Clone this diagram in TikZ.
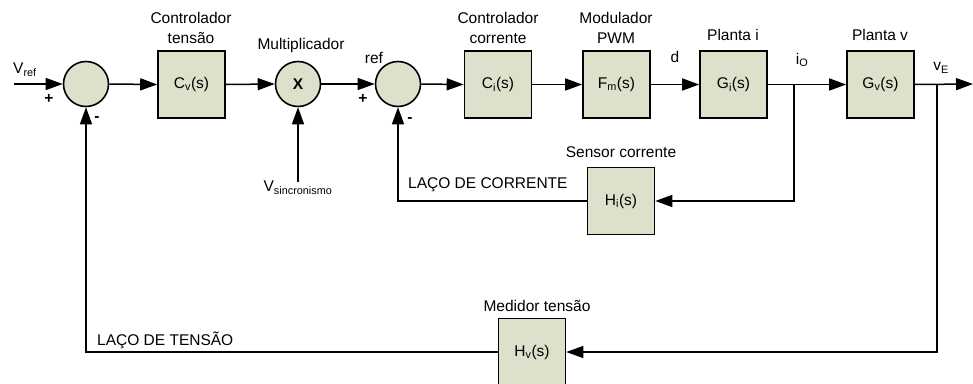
\documentclass[tikz,border=0pt]{standalone}
\usepackage{fontspec}
\setmainfont{Liberation Sans}
\usetikzlibrary{arrows.meta}
\definecolor{boxfill}{RGB}{221,224,203}
\newcommand{\dlab}{\fontsize{15.5}{20}\selectfont}
\begin{document}
\begin{tikzpicture}[x=1pt,y=-1pt,
  blk/.style={draw, line width=1.6pt, fill=boxfill, minimum width=67pt, minimum height=67pt, inner sep=0pt, font=\dlab},
  sumc/.style={circle, draw, line width=1.6pt, fill=boxfill, minimum size=45pt, inner sep=0pt, font=\dlab\bfseries},
  sig/.style={line width=1.5pt, -{Triangle[length=17pt,width=12pt]}},
  lbl/.style={font=\dlab, inner sep=0pt, align=center},
  sgn/.style={font=\dlab\bfseries, inner sep=0pt}]
\useasboundingbox (0,0) rectangle (973,383);

% blocks
\node[sumc] (sum1) at (86,84) {};
\node[blk] (cv) at (191.5,84.5) {C\textsubscript{v}(s)};
\node[sumc] (mult) at (298,84) {X};
\node[sumc] (sum2) at (398,84) {};
\node[blk] (ci) at (498,84.5) {C\textsubscript{i}(s)};
\node[blk] (fm) at (616.5,84.5) {F\textsubscript{m}(s)};
\node[blk] (gi) at (733.5,84.5) {G\textsubscript{i}(s)};
\node[blk] (gv) at (880.5,84.5) {G\textsubscript{v}(s)};
\node[blk] (hi) at (621,201) {H\textsubscript{i}(s)};
\node[blk] (hv) at (532,352) {H\textsubscript{v}(s)};

% coordinates
\coordinate (vin) at (14,84);
\coordinate (vout) at (973,84);
\coordinate (sync) at (298,182);
\coordinate (brI) at (794,84);
\coordinate (brV) at (937,84);

% labels
\node[lbl, anchor=west] (lvref) at (13,70) {V\textsubscript{ref}};
\node[lbl] (lcv) at (191,28) {Controlador\\tensão};
\node[lbl] (lmult) at (301,45) {Multiplicador};
\node[lbl] (lsync) at (298,188) {V\textsubscript{sincronismo}};
\node[lbl] (lref) at (374,58) {ref};
\node[lbl] (lci) at (498,28) {Controlador\\corrente};
\node[lbl] (lfm) at (616,28) {Modulador\\PWM};
\node[lbl] (ld) at (675,57) {d};
\node[lbl] (lgi) at (733,35) {Planta i};
\node[lbl] (lio) at (802,60) {i\textsubscript{O}};
\node[lbl] (lgv) at (880,35) {Planta v};
\node[lbl] (lve) at (941,68) {v\textsubscript{E}};
\node[lbl] (lhi) at (621,152) {Sensor corrente};
\node[lbl, anchor=west] (lic) at (408,185) {LAÇO DE CORRENTE};
\node[lbl] (lhv) at (537,306) {Medidor tensão};
\node[lbl, anchor=west] (lvt) at (97,340) {LAÇO DE TENSÃO};
\node[sgn] (p1) at (49,99) {+};
\node[sgn] (m1) at (97,119) {-};
\node[sgn] (p2) at (363,99) {+};
\node[sgn] (m2) at (410,120) {-};

% forward path
\draw[sig] (vin) -- (sum1.west);
\draw[sig] (sum1.east) -- (cv.west);
\draw[sig] (cv.east) -- (mult.west);
\draw[sig] (sync) -- (mult.south);
\draw[sig] (mult.east) -- (sum2.west);
\draw[sig] (sum2.east) -- (ci.west);
\draw[sig] (ci.east) -- (fm.west);
\draw[sig] (fm.east) -- (gi.west);
\draw[sig] (gi.east) -- (gv.west);
\draw[sig] (gv.east) -- (vout);

% current loop
\draw[sig] (brI) |- (hi.east);
\draw[sig] (hi.west) -| (sum2.south);

% voltage loop
\draw[sig] (brV) |- (hv.east);
\draw[sig] (hv.west) -| (sum1.south);
\end{tikzpicture}
\end{document}
